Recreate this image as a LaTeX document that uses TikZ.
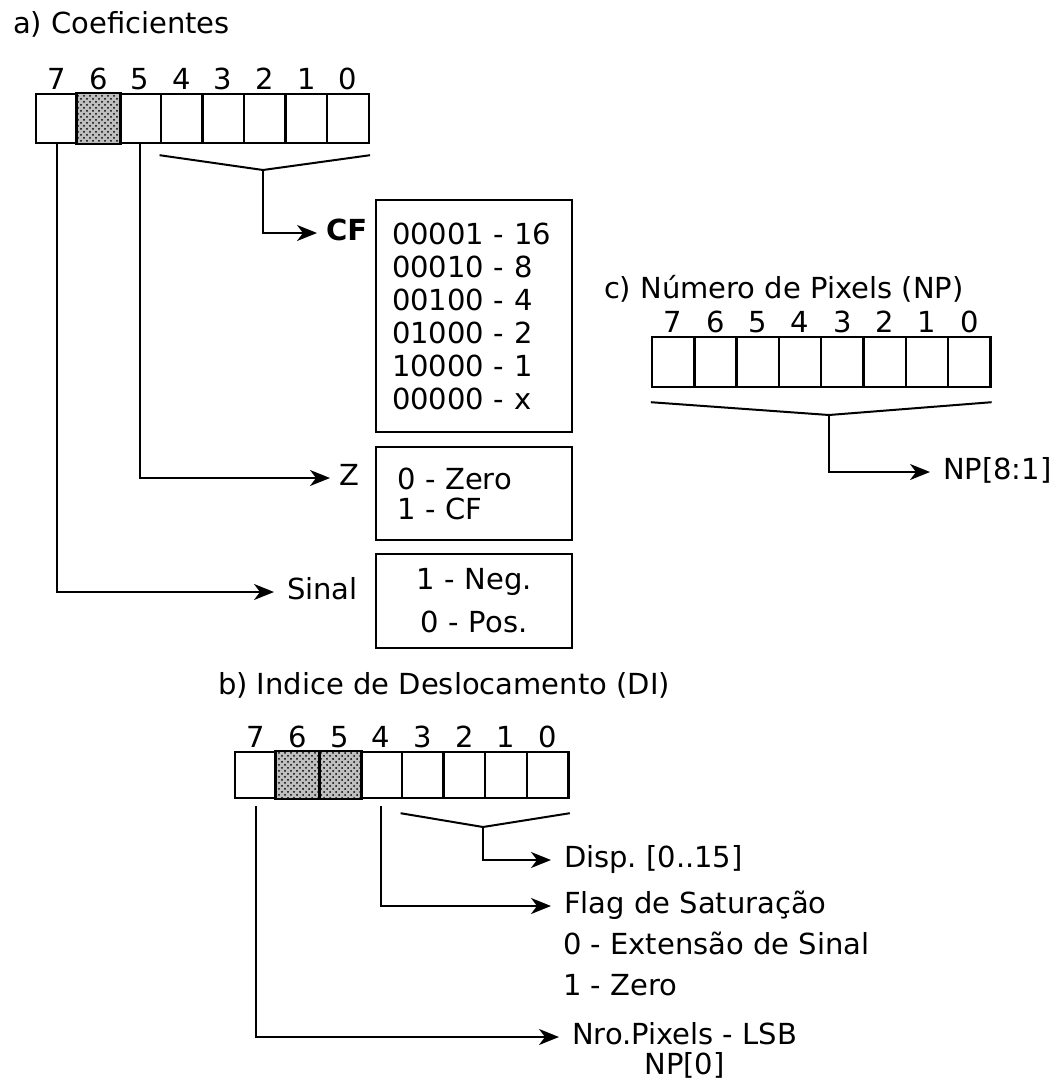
\documentclass[tikz,border=0pt]{standalone}
\usepackage{fontspec}
\setmainfont{DejaVu Sans}
\usetikzlibrary{arrows.meta,patterns,positioning}

\tikzset{
  cell/.style={draw, line width=1.2pt, inner sep=0pt},
  bitnum/.style={anchor=south, inner sep=1pt},
  lbl/.style={anchor=west, inner xsep=6pt, inner ysep=0pt, text height=0.75em, text depth=0pt},
  subline/.style={anchor=west, inner sep=0pt, text height=0.75em, text depth=0pt},
  valbox/.style={draw, line width=1.2pt, minimum width=98pt, text width=77pt, inner xsep=10.5pt},
  titulo/.style={anchor=base west, inner sep=0pt},
  pontilhado/.style={line width=1.2pt, fill=black!25, postaction={pattern=crosshatch dots}},
}

\begin{document}
\begin{tikzpicture}[x=0.5pt, y=-0.5pt, line width=1pt, >={Stealth[length=10pt,width=8pt,inset=3pt]},
    every node/.style={font=\fontsize{14.5}{17}\selectfont}]
  \useasboundingbox (0,0) rectangle (1054,1092);

  % a) coeficientes
  \node[titulo] (tita) at (12,33) {a) Coeficientes};
  \foreach \b in {0,...,7} {
    \node[cell, minimum width=20.8pt, minimum height=24.5pt] (a\b) at ({56.8+41.6*(7-\b)},118.5) {};
    \node[bitnum] (na\b) at (a\b.north) {\b};
  }
  \draw[pontilhado] (a6.south west) rectangle (a6.north east);

  \coordinate (abr) at (263,170);
  \draw ([yshift=-5.5pt]a4.south west) -- (abr) -- ([yshift=-5.5pt]a0.south east);

  \node[lbl, inner xsep=4pt] (lcf) at (317,233) {\textbf{CF}};
  \node[lbl, inner xsep=4pt] (lz) at (330,478) {Z};
  \node[lbl] (lsinal) at (274,592) {Sinal};
  \draw[->] (abr) |- (lcf.west);
  \draw[->] (a5.south) |- (lz.west);
  \draw[->] (a7.south) |- (lsinal.west);

  \node[valbox, align=left, text width=82pt, inner xsep=8pt, minimum height=116pt,
        font=\fontsize{14.5}{16.5}\selectfont] (boxcf) at (474,316)
    {00001 - 16\\00010 - 8\\00100 - 4\\01000 - 2\\10000 - 1\\00000 - x};
  \node[valbox, align=left, minimum height=46.5pt, font=\fontsize{14.5}{15}\selectfont] (boxz) at (474,493.5)
    {0 - Zero\\1 - CF};
  \node[valbox, align=center, minimum height=47pt, font=\fontsize{14.5}{21.5}\selectfont] (boxsinal) at (474,601)
    {1 - Neg.\\0 - Pos.};

  % b) indice de deslocamento
  \node[titulo] (titb) at (217,694) {b) Indice de Deslocamento (DI)};
  \foreach \b in {0,...,7} {
    \node[cell, minimum width=20.85pt, minimum height=23pt] (b\b) at ({255.85+41.7*(7-\b)},775) {};
    \node[bitnum] (nb\b) at (b\b.north) {\b};
  }
  \draw[pontilhado] (b6.south west) rectangle (b5.north east);
  \draw[line width=1.2pt] (b6.north east) -- (b6.south east);

  \coordinate (bbr) at (483,827);
  \draw ([yshift=-7pt]b3.south west) -- (bbr) -- ([yshift=-7pt]b0.south east);

  \node[lbl] (ldisp) at (551,860) {Disp.\ [0..15]};
  \node[lbl] (lflag) at (551,906) {Flag de Saturação};
  \node[subline] (lflag0) at (562,947) {0 - Extensão de Sinal};
  \node[subline] (lflag1) at (562,988) {1 - Zero};
  \node[lbl] (lnro) at (559,1037) {Nro.Pixels - LSB};
  \node[subline, below=6.5pt of lnro] (lnp0) {NP[0]};
  \draw[->] (bbr) |- (ldisp.west);
  \draw[->] ([yshift=-3.5pt]b4.south) |- (lflag.west);
  \draw[->] ([yshift=-3.5pt]b7.south) |- (lnro.west);

  % c) numero de pixels
  \node[titulo] (titc) at (603,298) {c) Número de Pixels (NP)};
  \foreach \b in {0,...,7} {
    \node[cell, minimum width=21.15pt, minimum height=25pt] (c\b) at ({673.15+42.3*(7-\b)},362) {};
    \node[bitnum] (nc\b) at (c\b.north) {\b};
  }
  \coordinate (cbr) at (829,415);
  \draw ([yshift=-7pt]c7.south west) -- (cbr) -- ([yshift=-7pt]c0.south east);
  \node[lbl] (lnp) at (930,472) {NP[8:1]};
  \draw[->] (cbr) |- (lnp.west);
\end{tikzpicture}
\end{document}
